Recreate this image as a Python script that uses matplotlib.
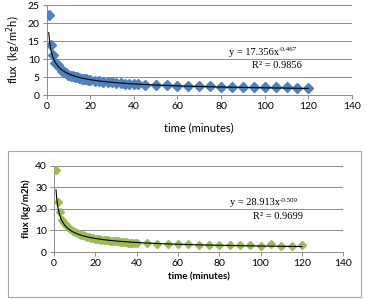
import matplotlib
matplotlib.use("Agg")
import matplotlib.pyplot as plt
import numpy as np
from matplotlib.patches import Rectangle

# top chart data
t_top = [1, 2, 3, 4, 5, 6, 7, 8, 9, 10, 11, 12, 13, 14, 15, 16, 17, 18, 19, 20,
         22, 24, 26, 28, 30, 32, 34, 36, 38, 40, 42, 45,
         50, 55, 60, 65, 70, 75, 80, 85, 90, 95, 100, 105, 110, 115, 120]
flux_top = [22.3, 14.0, 11.0, 9.0, 8.3, 7.6, 6.8, 6.4, 6.0, 5.7, 5.4, 5.3, 5.1, 4.9, 4.7,
            4.6, 4.5, 4.4, 4.3, 4.1,
            4.0, 3.8, 3.7, 3.6, 3.5, 3.4, 3.3, 3.2, 3.1, 3.1, 3.0, 2.9,
            2.8, 2.7, 2.6, 2.55, 2.5, 2.4, 2.35, 2.3, 2.3, 2.25, 2.2, 2.2, 2.15, 2.1, 2.1]
fit_top = (17.356, -0.467)

# bottom chart data
t_bot = [1, 2, 3, 4, 5, 6, 7, 8, 9, 10, 11, 12, 13, 14, 15, 16, 17, 18, 19, 20,
         21, 22, 23, 24, 25, 26, 27, 28, 29, 30, 31, 32, 33, 34, 35, 36, 37, 38, 39, 40,
         45, 50, 55, 60, 65, 70, 75, 80, 85, 90, 95, 100, 105, 110, 115, 120]
flux_bot = [38.0, 23.0, 18.5, 14.8, 13.5, 12.5, 11.5, 10.5, 9.8, 9.2, 8.8, 8.4, 8.0, 7.7, 7.4,
            7.1, 6.9, 6.7, 6.5, 6.2,
            6.0, 5.9, 5.8, 5.6, 5.5, 5.4, 5.3, 5.2, 5.1, 5.0, 4.9, 4.8, 4.7, 4.6, 4.5,
            4.4, 4.4, 4.3, 4.2, 4.2,
            4.0, 3.8, 3.8, 3.5, 3.5, 3.4, 3.4, 3.3, 3.1, 3.1, 3.1, 3.0, 3.8, 3.0, 3.0, 3.3]
fit_bot = (28.913, -0.509)

tick_font = "Lato"
eq_font = "Liberation Serif"
grid_col = "#8c8c8c"

fig = plt.figure(figsize=(3.67, 3.0), dpi=100)


def style_axes(ax, xticks, yticks, ylim):
    ax.set_xlim(0, 140)
    ax.set_ylim(*ylim)
    ax.set_xticks(xticks)
    ax.set_yticks(yticks)
    ax.yaxis.grid(True, color=grid_col, linewidth=0.7)
    ax.set_axisbelow(True)
    for s in ["top", "right"]:
        ax.spines[s].set_visible(False)
    for s in ["left", "bottom"]:
        ax.spines[s].set_color(grid_col)
        ax.spines[s].set_linewidth(0.7)
    ax.tick_params(colors=grid_col, length=3, width=0.7, labelcolor="black",
                   labelsize=7.5, pad=2)
    for lab in ax.get_xticklabels() + ax.get_yticklabels():
        lab.set_fontfamily(tick_font)


def equation(ax, x, y1, y2, a, b, r2):
    ax.text(x, y1, "y = %.3fx" % a, fontsize=7.5, family=eq_font,
            ha="right", va="center")
    ax.text(x, y1, "%.3f" % b, fontsize=5, family=eq_font,
            ha="left", va="bottom")
    ax.text(x - 1, y2, "R\u00b2 = %.4f" % r2, fontsize=7.5, family=eq_font,
            ha="center", va="center")


# top chart
ax1 = fig.add_axes([0.127, 0.683, 0.832, 0.30])
style_axes(ax1, range(0, 141, 20), range(0, 26, 5), (0, 25))
ax1.plot(t_top, flux_top, linestyle="none", marker="D", markersize=5.4,
         color="#4F81BD", zorder=3)
xf = np.linspace(1, 120, 400)
ax1.plot(xf, fit_top[0] * xf ** fit_top[1], color="black", linewidth=0.8, zorder=4)
ax1.set_xlabel("time (minutes)", fontsize=8, family=tick_font, labelpad=8)
ax1.set_ylabel("flux  (kg/m$^2$h)", fontsize=8, family=tick_font, labelpad=3)
equation(ax1, 106.5, 11.9, 8.3, fit_top[0], fit_top[1], 0.9856)

# bottom chart border
fig.patches.append(Rectangle((0.022, 0.01), 0.962, 0.487, transform=fig.transFigure,
                             fill=False, edgecolor="#a6a6a6", linewidth=0.8))

ax2 = fig.add_axes([0.147, 0.16, 0.788, 0.287])
style_axes(ax2, range(0, 141, 20), range(0, 41, 10), (0, 40))
ax2.plot(t_bot, flux_bot, linestyle="none", marker="D", markersize=4.2,
         color="#9BBB59", zorder=3)
ax2.plot(xf, fit_bot[0] * xf ** fit_bot[1], color="black", linewidth=0.8, zorder=4)
ax2.set_xlabel("time (minutes)", fontsize=7, family=tick_font, fontweight="bold",
               labelpad=3)
ax2.set_ylabel("flux (kg/m2h)", fontsize=7, family=tick_font, fontweight="bold",
               labelpad=3)
equation(ax2, 109.5, 22.8, 16.7, fit_bot[0], fit_bot[1], 0.9699)

fig.savefig("out.png", dpi=100)
